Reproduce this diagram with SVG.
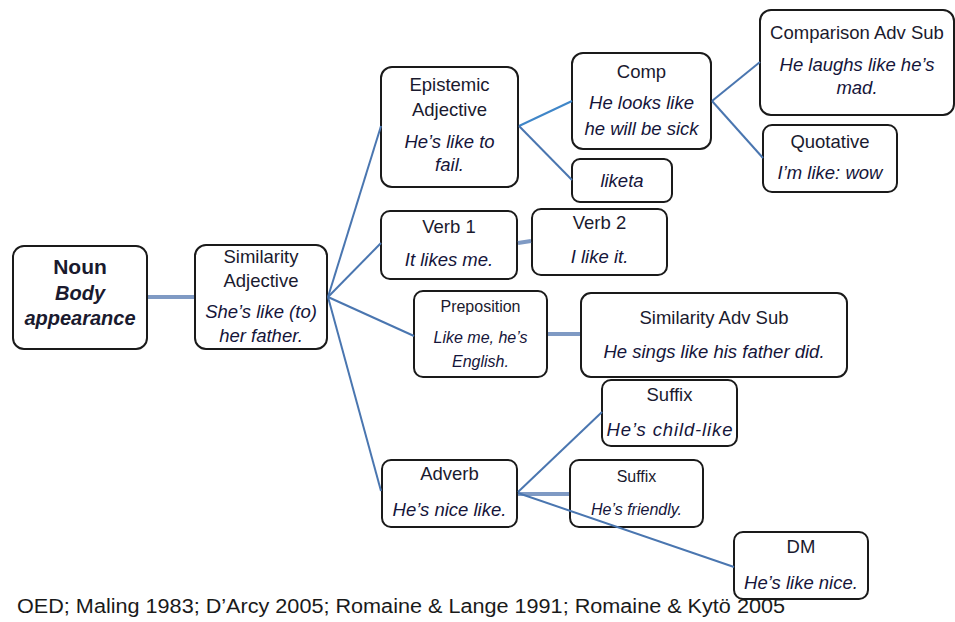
<svg xmlns="http://www.w3.org/2000/svg" width="955" height="622" viewBox="0 0 955 622">
<style>
.box{fill:#fff;stroke:#1a1a1a;stroke-width:2}
text{font-family:"Liberation Sans",Arial,sans-serif;font-size:18.5px;fill:#1a1a2e;text-anchor:middle}
.ex{font-style:italic;fill:#15153a}
.sm{font-size:16px}
.nb{font-weight:bold;font-size:20px}
.c{stroke:#4a76b0;stroke-width:2;fill:none}
.cb{stroke:#3f86c8;stroke-width:2;fill:none}
.t{stroke:#7f9ac4;stroke-width:4;fill:none}
</style>
<rect width="955" height="622" fill="#fff"/>
<g id="noun">
<rect class="box" x="13" y="246" width="134" height="103" rx="11"/>
<text class="nb" x="80" y="274" style="font-size:21px">Noun</text>
<text class="nb" x="80" y="300" style="font-style:italic">Body</text>
<text class="nb" x="80" y="325" style="font-style:italic">appearance</text>
</g>
<g id="similarity-adjective">
<rect class="box" x="195" y="245" width="132" height="104" rx="11"/>
<text x="261" y="263">Similarity</text>
<text x="261" y="287">Adjective</text>
<text class="ex" x="261" y="318">She’s like (to)</text>
<text class="ex" x="261" y="342">her father.</text>
</g>
<g id="epistemic-adjective">
<rect class="box" x="381" y="67" width="137" height="120" rx="11"/>
<text x="449.5" y="91">Epistemic</text>
<text x="449.5" y="116">Adjective</text>
<text class="ex" x="449.5" y="148">He’s like to</text>
<text class="ex" x="449.5" y="171">fail.</text>
</g>
<g id="comp">
<rect class="box" x="572" y="53" width="139" height="96" rx="11"/>
<text x="641.5" y="78">Comp</text>
<text class="ex" x="641.5" y="109">He looks like</text>
<text class="ex" x="641.5" y="135">he will be sick</text>
</g>
<g id="liketa">
<rect class="box" x="572" y="159" width="100" height="43" rx="8"/>
<text class="ex" x="622" y="187">liketa</text>
</g>
<g id="comparison-adv-sub">
<rect class="box" x="760" y="10" width="194" height="105" rx="11"/>
<text x="857" y="39">Comparison Adv Sub</text>
<text class="ex" x="857" y="71">He laughs like he’s</text>
<text class="ex" x="857" y="94">mad.</text>
</g>
<g id="quotative">
<rect class="box" x="763" y="125" width="134" height="67" rx="9"/>
<text x="830" y="148">Quotative</text>
<text class="ex" x="830" y="179">I’m like: wow</text>
</g>
<g id="verb-1">
<rect class="box" x="381" y="211" width="136" height="68" rx="9"/>
<text x="449" y="233">Verb 1</text>
<text class="ex" x="449" y="266">It likes me.</text>
</g>
<g id="verb-2">
<rect class="box" x="532" y="209" width="135" height="66" rx="9"/>
<text x="599.5" y="229">Verb 2</text>
<text class="ex" x="599.5" y="263">I like it.</text>
</g>
<g id="preposition">
<rect class="box" x="414" y="291" width="133" height="86" rx="9"/>
<text class="sm" x="480.5" y="312">Preposition</text>
<text class="ex sm" x="480.5" y="343">Like me, he’s</text>
<text class="ex sm" x="480.5" y="367">English.</text>
</g>
<g id="similarity-adv-sub">
<rect class="box" x="581" y="293" width="266" height="84" rx="10"/>
<text x="714" y="324">Similarity Adv Sub</text>
<text class="ex" x="714" y="358">He sings like his father did.</text>
</g>
<g id="suffix-1">
<rect class="box" x="602" y="380" width="135" height="66" rx="9"/>
<text x="669.5" y="401">Suffix</text>
<text class="ex" x="669.5" y="436" textLength="126" lengthAdjust="spacing">He’s child-like</text>
</g>
<g id="adverb">
<rect class="box" x="382" y="460" width="135" height="67" rx="9"/>
<text x="449.5" y="480">Adverb</text>
<text class="ex" x="449.5" y="516">He’s nice like.</text>
</g>
<g id="suffix-2">
<rect class="box" x="570" y="460" width="133" height="67" rx="9"/>
<text class="sm" x="636.5" y="482">Suffix</text>
<text class="ex sm" x="636.5" y="515">He’s friendly.</text>
</g>
<g id="dm">
<rect class="box" x="734" y="532" width="134" height="67" rx="9"/>
<text x="801" y="553">DM</text>
<text class="ex" x="801" y="589">He’s like nice.</text>
</g>
<g id="connectors">
<line class="t" x1="148" y1="297" x2="194" y2="297"/>
<line class="c" x1="328" y1="297" x2="381" y2="126"/>
<line class="c" x1="328" y1="297" x2="381" y2="243"/>
<line class="c" x1="328" y1="297" x2="414" y2="336"/>
<line class="c" x1="328" y1="297" x2="381" y2="491"/>
<line class="cb" x1="519" y1="126" x2="572" y2="101"/>
<line class="c" x1="519" y1="126" x2="572" y2="180"/>
<line class="c" x1="712" y1="101" x2="760" y2="62"/>
<line class="c" x1="712" y1="101" x2="763" y2="158"/>
<line class="t" x1="518" y1="243" x2="531" y2="241"/>
<line class="t" x1="548" y1="334" x2="580" y2="334"/>
<line class="c" x1="518" y1="492" x2="602" y2="412"/>
<line class="t" x1="518" y1="494" x2="569" y2="494"/>
<line class="c" x1="518" y1="493" x2="734" y2="567"/>
</g>
<text x="17" y="613" textLength="768" lengthAdjust="spacingAndGlyphs" style="text-anchor:start;font-size:20px;fill:#1a1a1a">OED; Maling 1983; D’Arcy 2005; Romaine &amp; Lange 1991; Romaine &amp; Kytö 2005</text>
</svg>
